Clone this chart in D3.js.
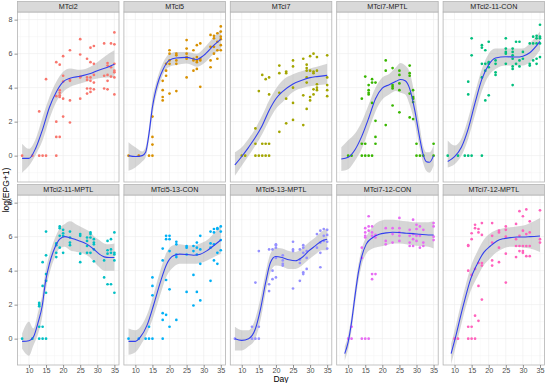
<!DOCTYPE html>
<html><head><meta charset="utf-8">
<script src="https://cdn.jsdelivr.net/npm/d3@7"></script>
<style>body{margin:0;background:#fff}svg{display:block}text{font-family:"Liberation Sans",Arial,sans-serif}</style>
</head><body>
<svg id="c" width="546" height="383"></svg>
<script>
const facets = ["MTci2","MTci5","MTci7","MTci7-MPTL","MTci2-11-CON","MTci2-11-MPTL","MTci5-13-CON","MTci5-13-MPTL","MTci7-12-CON","MTci7-12-MPTL"];
const palette = ["#F8766D","#D89000","#A3A500","#39B600","#00BF7D","#00BFC4","#00B0F6","#9590FF","#E76BF3","#FF62BC"];
const xTicks = [10,15,20,25,30,35];
const yTicks = [0,2,4,6,8];

// points: [day, log(EPG+1)]
const ptsMTci2 = [[8,0],[11,0],[13,0],[14,0],[15,0],[18,0],[13,2.6],[15,4.5],[18,1.1],[19,1.1],[18,2.0],[18,3.5],[18,5.5],[19,5.35],[19,3.85],[19,3.7],[19,3.55],[19,3.45],[20,5.85],[20,4.7],[20,4.35],[20,3.35],[20,2.3],[22,6.2],[22,4.45],[22,4.4],[22,3.25],[22,1.95],[25,6.85],[25,5.95],[25,4.65],[25,4.6],[25,3.35],[27,5.7],[27,4.6],[27,4.45],[27,3.95],[27,3.65],[28,6.35],[28,5.5],[28,4.6],[28,4.4],[28,3.95],[28,3.75],[29,6.45],[29,5.4],[29,4.75],[29,4.3],[29,3.9],[32,6.6],[32,4.7],[32,3.95],[33,5.3],[33,5.45],[33,4.4],[33,3.9],[33,4.75],[34,6.6],[34,5.2],[34,4.65],[35,7.25],[35,6.55],[35,5.0],[35,4.9],[35,4.6],[35,3.6],[35,5.4]];
const ptsMTci5 = [[8,0],[11,0],[14,0],[15,0],[15,0.65],[15,1.1],[15,2.3],[18,3.25],[18,3.45],[18,3.85],[18,4.4],[19,4.7],[19,5.0],[19,5.4],[20,5.4],[20,6.0],[20,6.2],[20,3.65],[20,5.6],[22,3.8],[22,6.0],[22,5.9],[22,5.4],[22,5.6],[25,6.8],[25,6.3],[25,6.0],[25,4.6],[25,5.8],[25,5.7],[27,6.2],[27,5.7],[27,5.6],[27,5.0],[28,6.5],[28,5.6],[28,5.5],[28,5.1],[28,5.8],[29,6.6],[29,5.6],[29,4.05],[29,5.7],[32,7.1],[32,5.2],[32,5.6],[32,6.4],[33,7.05],[33,6.4],[33,6.0],[33,6.9],[34,7.2],[34,6.7],[34,6.2],[34,5.7],[35,7.6],[35,7.3],[35,7.0],[35,6.85],[35,6.5],[35,6.2]];
const ptsMTci7 = [[10,0],[11,0],[14,0],[15,0],[16,0],[17,0],[18,0],[14,0.7],[16,0.7],[17,0.7],[18,0.7],[14,1.6],[15,3.8],[16,4.75],[17,4.5],[18,4.6],[18,3.6],[21,5.3],[21,4.85],[21,3.7],[21,1.4],[23,4.95],[23,4.85],[23,3.35],[23,1.9],[25,5.6],[25,5.25],[25,4.0],[25,3.1],[25,2.1],[28,5.7],[28,3.55],[28,1.8],[29,5.35],[29,5.15],[29,5.0],[29,4.6],[29,4.3],[29,2.75],[30,5.85],[30,5.0],[30,3.45],[30,3.25],[31,6.0],[31,4.95],[31,4.85],[31,3.9],[31,3.6],[32,5.8],[32,5.0],[32,4.2],[32,4.0],[32,3.85],[35,5.9],[35,4.6],[35,4.15],[35,3.85],[35,3.5]];
const ptsMTci7MPTL = [[10,0],[11,0],[14,0],[15,0],[16,0],[17,0],[14,0.7],[15,0.7],[18,0.7],[18,1.1],[18,2.05],[21,1.8],[14,3.35],[15,4.65],[16,3.85],[16,3.7],[16,3.6],[16,4.15],[17,4.5],[17,4.3],[17,3.1],[18,4.3],[21,5.6],[21,5.0],[23,5.15],[23,4.15],[23,4.05],[23,3.95],[23,2.95],[25,5.0],[25,4.75],[25,4.25],[25,3.85],[25,2.55],[28,5.3],[28,4.85],[28,4.7],[28,3.65],[28,2.25],[29,3.85],[29,3.45],[29,3.35],[29,3.15],[29,2.15],[30,0.7],[30,0],[31,0],[32,0],[35,0.7],[35,0]];
const ptsMTci2_11_CON = [[8,0],[11,0],[13,0],[14,0],[15,0],[18,0],[14,3.6],[14,4.35],[15,5.9],[15,6.9],[18,6.5],[18,6.35],[18,5.4],[18,4.6],[19,3.25],[20,3.55],[19,6.2],[19,5.4],[19,5.0],[20,6.7],[20,5.4],[20,5.5],[20,5.2],[22,4.9],[22,4.75],[22,5.6],[22,5.4],[25,6.9],[25,6.1],[25,6.0],[25,5.4],[25,6.3],[27,6.3],[27,6.1],[27,5.9],[27,5.7],[27,5.25],[27,5.1],[27,4.15],[28,6.7],[28,5.4],[29,6.7],[29,5.6],[29,5.25],[30,6.1],[30,5.7],[32,6.6],[32,5.4],[32,5.3],[33,7.0],[33,6.6],[33,5.6],[34,7.05],[34,6.9],[34,6.6],[34,5.7],[34,5.4],[35,7.7],[35,7.0],[35,6.9],[35,6.6],[35,5.8]];
const ptsMTci2_11_MPTL = [[8,0],[11,0],[13,0],[14,0],[15,0],[13,0.7],[14,0.7],[13,2.0],[13,2.1],[13,1.9],[14,3.1],[14,4.5],[15,2.7],[15,3.4],[15,3.8],[15,4.9],[15,6.3],[18,5.05],[18,4.8],[18,5.5],[18,5.6],[19,6.6],[19,6.5],[19,6.05],[19,5.35],[20,6.4],[20,6.2],[20,6.05],[20,5.05],[22,6.3],[22,5.95],[22,5.65],[22,5.5],[25,6.15],[25,6.05],[25,5.0],[25,4.5],[27,5.95],[27,5.75],[27,5.45],[27,5.05],[28,6.25],[28,6.15],[28,5.95],[28,5.05],[29,5.85],[29,5.65],[29,5.55],[29,5.25],[29,4.55],[32,4.6],[32,3.6],[33,5.75],[33,5.2],[33,5.0],[33,3.2],[34,5.85],[34,5.25],[34,5.05],[34,3.2],[35,6.25],[35,5.05],[35,4.95],[35,4.6],[35,2.7]];
const ptsMTci5_13_CON = [[8,0],[11,0],[13,0],[14,0],[15,0],[18,0],[14,0.7],[15,2.55],[15,3.1],[15,3.6],[18,1.1],[18,1.5],[19,1.4],[20,0.7],[22,1.1],[18,5.3],[18,4.6],[19,3.45],[19,6.05],[19,5.85],[20,6.05],[20,5.85],[20,5.15],[20,2.9],[22,5.7],[22,5.55],[22,4.95],[22,4.8],[25,5.45],[25,5.35],[25,4.95],[25,2.75],[27,5.45],[27,5.15],[27,3.75],[27,1.95],[28,5.65],[28,5.35],[28,4.95],[28,2.75],[29,6.05],[29,5.25],[29,4.4],[29,2.25],[32,6.3],[32,5.6],[32,5.35],[32,3.4],[33,6.45],[33,6.25],[33,5.55],[33,4.6],[34,6.5],[34,6.45],[34,5.05],[34,4.4],[35,6.6],[35,6.3],[35,5.8],[35,5.2]];
const ptsMTci5_13_MPTL = [[8,0],[13,0],[14,0],[15,0],[13,0.7],[15,0.7],[14,3.3],[15,5.15],[18,5.25],[19,5.25],[20,5.5],[20,5.55],[18,2.8],[18,3.2],[19,3.5],[20,3.6],[19,4.0],[20,5.35],[20,4.75],[22,4.6],[22,4.4],[22,4.3],[22,4.9],[25,5.7],[25,5.25],[25,5.15],[25,2.95],[27,5.25],[27,4.65],[27,4.45],[27,3.4],[28,5.5],[28,5.35],[28,5.05],[28,3.9],[28,3.8],[29,5.15],[29,4.75],[29,4.1],[32,6.15],[32,5.35],[33,6.35],[33,5.65],[33,5.05],[33,4.2],[34,6.45],[34,6.05],[34,5.75],[35,6.4],[35,6.1],[35,5.7],[35,5.3]];
const ptsMTci7_12_CON = [[10,0],[11,0],[14,0],[15,0],[16,0],[11,0.7],[14,4.75],[14,5.35],[15,6.5],[15,6.25],[16,7.2],[16,6.6],[16,6.35],[17,6.6],[15,6.05],[15,5.95],[17,3.8],[18,3.8],[17,3.5],[17,6.25],[17,6.05],[18,6.1],[18,5.95],[21,6.5],[21,5.75],[21,5.55],[23,6.5],[23,6.15],[23,5.65],[25,7.1],[25,6.5],[25,6.25],[25,6.05],[25,5.75],[28,6.4],[28,6.05],[28,5.65],[28,5.45],[29,7.0],[29,6.15],[29,5.85],[29,5.45],[30,6.7],[30,6.45],[30,6.05],[30,5.75],[31,6.6],[31,6.05],[31,5.35],[32,6.4],[32,5.65],[32,5.45],[35,6.8],[35,6.6],[35,6.0],[35,5.8]];
const ptsMTci7_12_MPTL = [[10,0],[11,0],[14,0],[15,0],[16,0],[14,0.7],[15,0.7],[16,1.35],[17,1.05],[18,2.3],[17,3.1],[14,4.0],[15,3.75],[16,4.1],[17,4.45],[18,4.45],[18,4.3],[14,5.5],[14,5.45],[15,5.85],[15,6.2],[16,6.5],[16,6.7],[17,6.45],[17,6.25],[18,6.8],[18,6.1],[21,6.8],[21,6.05],[21,5.65],[21,4.6],[21,4.3],[23,6.35],[23,6.25],[23,5.35],[23,4.5],[25,6.6],[25,6.4],[25,6.0],[25,5.0],[25,3.3],[28,6.75],[28,5.85],[28,5.45],[28,4.8],[29,7.5],[29,6.05],[29,5.45],[29,5.15],[30,7.2],[30,6.35],[30,5.45],[30,5.15],[30,5.05],[31,7.6],[31,6.15],[31,5.45],[31,4.85],[32,6.9],[32,6.25],[32,5.45],[32,4.85],[35,7.55],[35,5.85],[35,5.65]];

// smoothed fit: [day, fit, lower, upper]
const fitMTci2 = [[8,-0.16,-1.0,0.7],[10,-0.16,-0.6,0.4],[12,0.45,0.06,1.0],[14,1.55,0.9,2.27],[16,2.85,2.17,3.45],[18,3.75,3.16,4.34],[20,4.34,3.75,4.93],[22,4.55,4.04,5.13],[25,4.67,4.24,5.05],[28,4.83,4.44,5.23],[30,5.0,4.54,5.5],[33,5.2,4.6,5.95],[35,5.38,4.6,6.2]];
const fitMTci5 = [[8,0,-0.89,0.79],[10,-0.05,-0.69,0.49],[12,0.0,-0.35,0.25],[13,0.2,-0.1,0.5],[14,1.3,0.89,1.68],[15,2.86,2.37,3.35],[16,3.85,3.45,4.24],[17,4.54,4.15,4.9],[18,5.03,4.73,5.42],[20,5.62,5.23,6.0],[22,5.74,5.33,6.1],[25,5.78,5.42,6.1],[28,5.66,5.23,6.0],[30,5.9,5.42,6.31],[33,6.5,6.0,7.0],[35,6.84,6.2,7.4]];
const fitMTci7 = [[8,-0.55,-1.18,0.2],[10,-0.05,-0.6,0.5],[12,0.49,0,1.0],[14,1.08,0.6,1.6],[16,1.78,1.28,2.37],[18,2.66,2.07,3.25],[20,3.35,2.76,3.94],[22,3.78,3.16,4.44],[25,4.22,3.75,4.79],[28,4.47,4.0,5.0],[30,4.59,4.08,5.13],[32,4.65,4.14,5.23],[35,4.72,4.2,5.4]];
const fitMTci7MPTL = [[8,-0.2,-0.9,0.5],[10,-0.1,-0.8,0.9],[12,0.35,-0.3,1.3],[14,1.15,0.4,2.0],[16,2.2,1.5,3.0],[18,3.35,2.6,4.0],[20,3.97,3.3,4.6],[22,4.17,3.6,4.8],[24,4.37,3.8,5.2],[25.3,4.48,3.7,5.45],[26.7,4.4,3.6,5.3],[28,3.94,3.0,4.9],[29.5,2.66,1.9,3.5],[30.9,1.08,0.5,1.8],[31.9,0.1,-0.4,0.6],[32.9,-0.36,-0.9,0.2],[33.8,-0.39,-1.0,0.2],[35,0.0,-0.6,0.6]];
const fitMTci2_11_CON = [[8,-0.34,-0.69,0.89],[10,-0.06,-0.5,0.6],[12,0.5,0.0,1.0],[14,1.58,1.0,2.2],[16,3.1,2.4,3.7],[18,4.5,3.8,5.1],[20,5.35,4.7,6.0],[22,5.74,5.1,6.3],[25,5.82,5.3,6.3],[28,5.8,5.3,6.3],[30,5.85,5.3,6.3],[32,6.05,5.5,6.6],[35,6.72,6.2,7.3]];
const fitMTci2_11_MPTL = [[8,-0.16,-0.6,0.3],[10,-0.12,-1.0,1.0],[11.3,0.1,-0.4,0.6],[12.7,0.97,0.3,1.6],[13.9,1.95,1.3,2.6],[14.8,3.3,2.7,3.9],[16.1,4.48,3.9,5.0],[17.6,5.36,4.8,5.9],[19,5.85,5.3,6.5],[20.5,6.0,5.4,6.75],[22,5.94,5.2,6.9],[24,5.8,5.1,6.7],[26,5.65,5.0,6.5],[27.7,5.46,4.8,6.3],[29.2,5.22,4.5,6.0],[30.6,4.97,4.2,5.8],[32,4.81,4.0,5.6],[33.5,4.77,4.0,5.55],[35,4.77,4.0,5.6]];
const fitMTci5_13_CON = [[8,-0.16,-0.95,0.6],[10,-0.16,-0.8,0.5],[11.5,0.1,-0.4,0.7],[13.4,0.78,0.3,1.4],[15.3,1.95,1.3,2.6],[17.3,3.31,2.6,4.0],[19.2,4.39,3.7,5.1],[21.1,4.87,4.2,5.5],[23,4.97,4.4,5.55],[25,4.95,4.4,5.5],[27,4.91,4.4,5.5],[29,4.97,4.45,5.6],[31,5.18,4.6,5.8],[33,5.48,4.8,6.2],[35,5.8,5.0,6.7]];
const fitMTci5_13_MPTL = [[8,0.0,-0.7,0.7],[10,-0.1,-0.7,0.5],[12,0.0,-0.45,0.5],[14,0.58,0.0,1.2],[15.5,1.75,1.1,2.4],[17,3.31,2.7,3.9],[18.4,4.48,3.9,5.0],[19.9,4.83,4.3,5.35],[21.8,4.77,4.25,5.3],[23.8,4.64,4.1,5.15],[25.7,4.58,4.1,5.1],[27.6,4.77,4.3,5.3],[29.6,5.16,4.65,5.65],[31.5,5.46,4.95,5.95],[33.4,5.75,5.2,6.3],[35,5.85,5.2,6.5]];
const fitMTci7_12_CON = [[9,-0.88,-1.3,-0.45],[10,-0.2,-0.6,0.2],[11,0.97,0.5,1.4],[12,2.5,2.0,3.0],[13,3.9,3.4,4.35],[14,4.85,4.35,5.3],[15.3,5.56,5.0,6.0],[17.2,5.95,5.3,6.6],[19.1,6.14,5.4,6.9],[21.1,6.22,5.5,7.0],[23,6.26,5.6,7.0],[25,6.24,5.6,6.95],[27,6.2,5.55,6.9],[29,6.18,5.5,6.85],[31,6.14,5.45,6.85],[33.5,6.1,5.4,6.85],[35,6.1,5.3,6.9]];
const fitMTci7_12_MPTL = [[9,-0.88,-1.5,-0.3],[10.3,0.1,-0.5,0.7],[11.7,1.27,0.6,1.9],[13.2,2.44,1.8,3.1],[14.7,3.5,2.8,4.2],[16.6,4.38,3.6,5.1],[18.5,5.06,4.3,5.8],[20.5,5.45,4.75,6.2],[22.4,5.75,5.1,6.4],[24.3,5.88,5.3,6.5],[26.3,5.94,5.4,6.55],[28.2,5.98,5.4,6.6],[30.2,5.98,5.35,6.65],[32.1,6.0,5.3,6.8],[35,6.04,5.1,7.1]];

const points = [ptsMTci2,ptsMTci5,ptsMTci7,ptsMTci7MPTL,ptsMTci2_11_CON,ptsMTci2_11_MPTL,ptsMTci5_13_CON,ptsMTci5_13_MPTL,ptsMTci7_12_CON,ptsMTci7_12_MPTL];
const fits = [fitMTci2,fitMTci5,fitMTci7,fitMTci7MPTL,fitMTci2_11_CON,fitMTci2_11_MPTL,fitMTci5_13_CON,fitMTci5_13_MPTL,fitMTci7_12_CON,fitMTci7_12_MPTL];

const svg = d3.select("#c");
const left0 = 17.5, pw = 101.5, step = 106.4, ph = 170, stripH = 10.5;
const rowTop = [12, 195];

const defs = svg.append("defs");

facets.forEach((name, i) => {
  const col = i % 5, row = Math.floor(i / 5);
  const x0 = left0 + col * step, y0 = rowTop[row];
  const x = d3.scaleLinear().domain([6.65, 36.35]).range([x0, x0 + pw]);
  const y = d3.scaleLinear().domain([-1.55, 8.45]).range([y0 + ph, y0]);

  const g = svg.append("g");
  g.append("rect").attr("x", x0).attr("y", y0).attr("width", pw).attr("height", ph).attr("fill", "#fff");
  const xMinor = [7.5,12.5,17.5,22.5,27.5,32.5];
  const yMinor = [-1,1,3,5,7];
  g.selectAll(".xm").data(xMinor).join("line").attr("x1", d=>x(d)).attr("x2", d=>x(d)).attr("y1", y0).attr("y2", y0+ph).attr("stroke", "#f4f4f4").attr("stroke-width", 0.5);
  g.selectAll(".ym").data(yMinor).join("line").attr("y1", d=>y(d)).attr("y2", d=>y(d)).attr("x1", x0).attr("x2", x0+pw).attr("stroke", "#f4f4f4").attr("stroke-width", 0.5);
  g.selectAll(".xg").data(xTicks).join("line").attr("x1", d=>x(d)).attr("x2", d=>x(d)).attr("y1", y0).attr("y2", y0+ph).attr("stroke", "#ebebeb").attr("stroke-width", 0.6);
  g.selectAll(".yg").data(yTicks).join("line").attr("y1", d=>y(d)).attr("y2", d=>y(d)).attr("x1", x0).attr("x2", x0+pw).attr("stroke", "#ebebeb").attr("stroke-width", 0.6);

  const cid = "clip" + i;
  defs.append("clipPath").attr("id", cid).append("rect").attr("x", x0).attr("y", y0).attr("width", pw).attr("height", ph);
  const pg = g.append("g").attr("clip-path", `url(#${cid})`);

  const area = d3.area().x(d => x(d[0])).y0(d => y(d[2])).y1(d => y(d[3])).curve(d3.curveMonotoneX);
  pg.append("path").datum(fits[i]).attr("d", area).attr("fill", "#999999").attr("fill-opacity", 0.4);

  pg.selectAll("circle").data(points[i]).join("circle")
    .attr("cx", d => x(d[0])).attr("cy", d => y(d[1])).attr("r", 1.35).attr("fill", palette[i]);

  const line = d3.line().x(d => x(d[0])).y(d => y(d[1])).curve(d3.curveMonotoneX);
  pg.append("path").datum(fits[i]).attr("d", line).attr("fill", "none").attr("stroke", "#3340ee").attr("stroke-width", 1.1);

  g.append("rect").attr("x", x0).attr("y", y0).attr("width", pw).attr("height", ph).attr("fill", "none").attr("stroke", "#b3b3b3").attr("stroke-width", 0.8);

  g.append("rect").attr("x", x0).attr("y", y0 - stripH).attr("width", pw).attr("height", stripH).attr("fill", "#d9d9d9").attr("stroke", "#b3b3b3").attr("stroke-width", 0.8);
  g.append("text").attr("x", x0 + pw/2).attr("y", y0 - stripH/2 + 2.6).attr("text-anchor", "middle").attr("font-size", 7.2).attr("fill", "#1a1a1a").text(name);

  if (col === 0) {
    const ay = d3.axisLeft(y).tickValues(yTicks).tickSize(3).tickPadding(2);
    const a = svg.append("g").attr("transform", `translate(${x0},0)`).call(ay);
    a.select(".domain").remove();
    a.selectAll("line").attr("stroke", "#4d4d4d").attr("stroke-width", 0.6);
    a.selectAll("text").attr("font-size", 7.2).attr("fill", "#4d4d4d").attr("font-family", "Liberation Sans, Arial, sans-serif");
  }
  if (row === 1) {
    const ax = d3.axisBottom(x).tickValues(xTicks).tickSize(3).tickPadding(0);
    const a = svg.append("g").attr("transform", `translate(0,${y0 + ph})`).call(ax);
    a.select(".domain").remove();
    a.selectAll("line").attr("stroke", "#4d4d4d").attr("stroke-width", 0.6);
    a.selectAll("text").attr("font-size", 7.2).attr("fill", "#4d4d4d").attr("font-family", "Liberation Sans, Arial, sans-serif");
  }
});

svg.append("text").attr("x", 281).attr("y", 382).attr("text-anchor", "middle").attr("font-size", 8.5).attr("fill", "#000").text("Day");
svg.append("text").attr("transform", "translate(8.5,190) rotate(-90)").attr("text-anchor", "middle").attr("font-size", 8.5).attr("fill", "#000").text("log(EPG+1)");
</script>
</body></html>
